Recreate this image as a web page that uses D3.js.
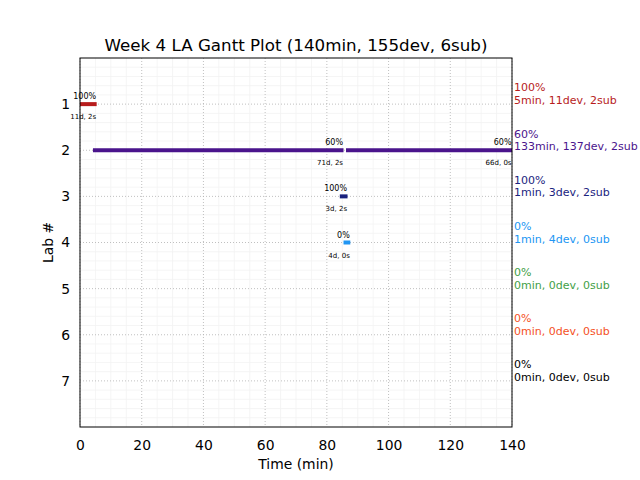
<!DOCTYPE html>
<html><head><meta charset="utf-8">
<script src="https://cdn.jsdelivr.net/npm/d3@7"></script>
<style>body{margin:0;background:#fff}svg{display:block;font-family:"DejaVu Sans",sans-serif}</style>
</head><body><svg id="c" width="640" height="480"></svg>
<script>
const title = "Week 4 LA Gantt Plot (140min, 155dev, 6sub)";
const labs = [1, 2, 3, 4, 5, 6, 7];
const labColors = ["#b71c1c", "#4a148c", "#1a237e", "#2196f3", "#43a047", "#f4511e", "#000000"];
const xTicks = [0, 20, 40, 60, 80, 100, 120, 140];
// segments
const segLab   = [1, 2, 2, 3, 4];
const segStart = [0, 4.2, 86.2, 84.2, 85.4];
const segEnd   = [5.4, 85.4, 140, 86.7, 87.6];
const segPct   = ["100%", "60%", "60%", "100%", "0%"];
const segSub   = ["11d, 2s", "71d, 2s", "66d, 0s", "3d, 2s", "4d, 0s"];
// right-side summaries
const sumPct = ["100%", "60%", "100%", "0%", "0%", "0%", "0%"];
const sumMin = [5, 133, 1, 1, 0, 0, 0];
const sumDev = [11, 137, 3, 4, 0, 0, 0];
const sumSub = [2, 2, 2, 0, 0, 0, 0];

const svg = d3.select("#c");
const L = 80, R = 512, T = 58, B = 427;
const x = d3.scaleLinear().domain([0, 140]).range([L, R]);
const y = d3.scaleLinear().domain([0, 8]).range([T, B]);

// minor grid
const g = svg.append("g");
g.selectAll(".mx").data(d3.range(0, 141, 5).filter(v => v % 20 !== 0)).join("line")
  .attr("x1", d => x(d)).attr("x2", d => x(d)).attr("y1", T).attr("y2", B)
  .attr("stroke", "#f3f3f3").attr("stroke-width", 0.8);
g.selectAll(".my").data(d3.range(0, 40).map(i => i * 0.2).filter(v => Math.abs(v - Math.round(v)) > 1e-6)).join("line")
  .attr("x1", L).attr("x2", R).attr("y1", d => y(d)).attr("y2", d => y(d))
  .attr("stroke", "#f3f3f3").attr("stroke-width", 0.8);
// major grid
g.selectAll(".gx").data(xTicks).join("line")
  .attr("x1", d => x(d)).attr("x2", d => x(d)).attr("y1", T).attr("y2", B)
  .attr("stroke", "#b0b0b0").attr("stroke-width", 0.8).attr("stroke-dasharray", "1,2");
g.selectAll(".gy").data(labs).join("line")
  .attr("x1", L).attr("x2", R).attr("y1", d => y(d)).attr("y2", d => y(d))
  .attr("stroke", "#b0b0b0").attr("stroke-width", 0.8).attr("stroke-dasharray", "1,2");

// bars
const segs = segLab.map((l, i) => ({lab: l, s: segStart[i], e: segEnd[i], pct: segPct[i], sub: segSub[i]}));
svg.selectAll(".bar").data(segs).join("rect")
  .attr("x", d => x(d.s)).attr("width", d => x(d.e) - x(d.s))
  .attr("y", d => y(d.lab) - 2).attr("height", 4)
  .attr("fill", d => labColors[d.lab - 1]);
svg.selectAll(".pct").data(segs).join("text")
  .attr("x", d => x(d.e) - 0.5).attr("y", d => y(d.lab) - 5)
  .attr("text-anchor", "end").attr("font-size", 8).attr("fill", "#000").text(d => d.pct);
svg.selectAll(".sub").data(segs).join("text")
  .attr("x", d => x(d.e) - 0.5).attr("y", d => y(d.lab) + 15)
  .attr("text-anchor", "end").attr("font-size", 7).attr("fill", "#000").text(d => d.sub);

// frame
svg.append("rect").attr("x", L).attr("y", T).attr("width", R - L).attr("height", B - T)
  .attr("fill", "none").attr("stroke", "#000").attr("stroke-width", 1);

// axes
const xa = svg.append("g").attr("transform", `translate(0,${B})`)
  .call(d3.axisBottom(x).tickValues(xTicks).tickSize(0).tickPadding(13));
const ya = svg.append("g").attr("transform", `translate(${L},0)`)
  .call(d3.axisLeft(y).tickValues(labs).tickSize(0).tickPadding(10));
[xa, ya].forEach(a => { a.select(".domain").remove(); a.selectAll("text").attr("font-size", 13.9).attr("font-family", "DejaVu Sans").attr("fill", "#000"); });

// right annotations
const sums = labs.map((l, i) => ({lab: l, pct: sumPct[i], txt: `${sumMin[i]}min, ${sumDev[i]}dev, ${sumSub[i]}sub`, c: labColors[i]}));
svg.selectAll(".s1").data(sums).join("text")
  .attr("x", 514).attr("y", d => y(d.lab) - 12.7).attr("font-size", 11).attr("fill", d => d.c).text(d => d.pct);
svg.selectAll(".s2").data(sums).join("text")
  .attr("x", 514).attr("y", d => y(d.lab)).attr("font-size", 11).attr("fill", d => d.c).text(d => d.txt);

// titles
svg.append("text").attr("x", (L + R) / 2).attr("y", 51).attr("text-anchor", "middle")
  .attr("font-size", 16.7).text(title);
svg.append("text").attr("x", (L + R) / 2).attr("y", 469).attr("text-anchor", "middle")
  .attr("font-size", 13.9).text("Time (min)");
svg.append("text").attr("transform", `translate(53,${(T + B) / 2}) rotate(-90)`).attr("text-anchor", "middle")
  .attr("font-size", 13.9).text("Lab #");
</script></body></html>
